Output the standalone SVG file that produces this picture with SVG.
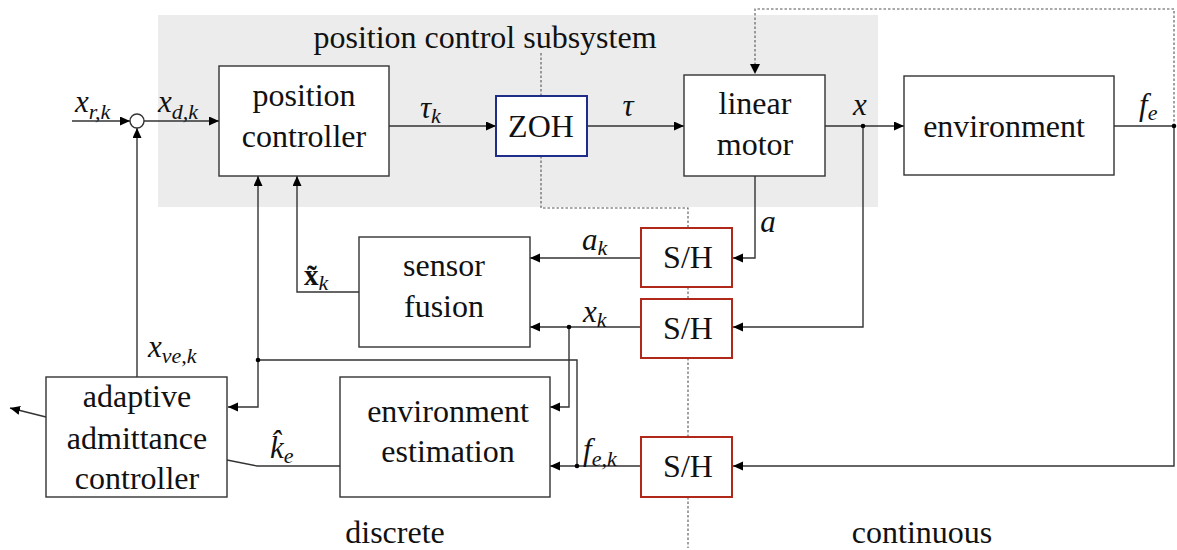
<svg xmlns="http://www.w3.org/2000/svg" width="1177" height="550" viewBox="0 0 1177 550">
  <defs>
    <marker id="arr" markerUnits="userSpaceOnUse" markerWidth="12" markerHeight="10" refX="10" refY="4.5" orient="auto">
      <path d="M0,0 L10,4.5 L0,9 z" fill="#000"/>
    </marker>
    <style>
      text { fill: #111; font-family: "Liberation Serif", "Times New Roman", serif; }
      .lbl { font-size: 32px; text-anchor: middle; }
      .m { font-style: italic; font-size: 31px; }
      .s { font-style: italic; font-size: 22px; }
      .box { fill: #fff; stroke: #333; stroke-width: 1.4; }
      .zoh { fill: #fff; stroke: #1f2d8a; stroke-width: 2; }
      .sh { fill: #fff; stroke: #b0281a; stroke-width: 2; }
      .w { fill: none; stroke: #333; stroke-width: 1.4; }
      .wa { fill: none; stroke: #333; stroke-width: 1.4; marker-end: url(#arr); }
      .dot { fill: none; stroke: #555; stroke-width: 1.1; stroke-dasharray: 2.5 2; }
      .jn { fill: #000; }
    </style>
  </defs>

  <!-- shaded subsystem region -->
  <rect x="158" y="15" width="720" height="192" fill="#ececec"/>
  <text class="lbl" x="485" y="48">position control subsystem</text>

  <!-- sampling boundary (dotted) -->
  <g id="boundary">
    <path class="dot" d="M541,53 V96"/>
    <path class="dot" d="M541,156 V208 H688 V227"/>
    <path class="dot" d="M688,287 V299"/>
    <path class="dot" d="M688,358 V437"/>
    <path class="dot" d="M688,497 V548"/>
  </g>

  <!-- connectors -->
  <g id="connectors">
    <path class="wa" d="M72,121 H130"/>
    <path class="wa" d="M144,121 H219"/>
    <path class="wa" d="M389,126 H496"/>
    <path class="wa" d="M587,126 H684"/>
    <path class="wa" d="M825,126 H904"/>
    <path class="w" d="M1114,126 H1174"/>
    <path class="dot" d="M1174,126 V9 H755 V64"/>
    <path d="M750,64 L755,74 L760,64 z" fill="#000"/>
    <path class="wa" d="M1174,126 V466 H733"/>
    <path class="wa" d="M755,176 V258 H733"/>
    <path class="wa" d="M863,126 V327 H733"/>
    <path class="wa" d="M641,258 H530"/>
    <path class="wa" d="M641,327 H530"/>
    <path class="wa" d="M359,292 H297 V176"/>
    <path class="wa" d="M569,327 V407 H550"/>
    <path class="wa" d="M641,466 H550"/>
    <path class="w" d="M577,466 V360 H258"/>
    <path class="wa" d="M258,360 V176"/>
    <path class="wa" d="M258,360 V407 H228"/>
    <path class="wa" d="M137,377 V128"/>
    <path class="w" d="M340,466 H257 L227,460"/>
    <path class="wa" d="M46,417 L10,408"/>
    <circle class="jn" cx="863" cy="126" r="2.3"/>
    <circle class="jn" cx="1174" cy="126" r="2.3"/>
    <circle class="jn" cx="569" cy="327" r="2.3"/>
    <circle class="jn" cx="577" cy="466" r="2.3"/>
    <circle class="jn" cx="258" cy="360" r="2.3"/>
  </g>

  <!-- signal labels -->
  <g id="labels">
    <text x="75" y="112"><tspan class="m">x</tspan><tspan class="s" dy="7">r,k</tspan></text>
    <text x="158" y="112"><tspan class="m">x</tspan><tspan class="s" dy="7">d,k</tspan></text>
    <text x="420" y="118"><tspan class="m">τ</tspan><tspan class="s" dy="5">k</tspan></text>
    <text x="628" y="116" class="m" text-anchor="middle">τ</text>
    <text x="860" y="115" class="m" text-anchor="middle">x</text>
    <text x="1139" y="115"><tspan class="m">f</tspan><tspan class="s" dy="5">e</tspan></text>
    <text x="768" y="232" class="m" text-anchor="middle">a</text>
    <text x="582" y="250"><tspan class="m">a</tspan><tspan class="s" dy="5">k</tspan></text>
    <text x="583" y="322"><tspan class="m">x</tspan><tspan class="s" dy="5">k</tspan></text>
    <text x="304" y="285"><tspan font-weight="bold" font-size="29px">x̃</tspan><tspan class="s" dy="5">k</tspan></text>
    <text x="148" y="357"><tspan class="m">x</tspan><tspan class="s" dy="6">ve,k</tspan></text>
    <text x="270" y="458"><tspan class="m">k̂</tspan><tspan class="s" dy="5">e</tspan></text>
    <text x="583" y="460"><tspan class="m">f</tspan><tspan class="s" dy="6">e,k</tspan></text>
  </g>

  <!-- summing junction -->
  <g id="sum">
    <circle cx="137" cy="121" r="7" fill="#fff" stroke="#333" stroke-width="1.4"/>
  </g>

  <g id="position-controller">
    <rect class="box" x="219" y="66" width="170" height="110"/>
    <text class="lbl" x="304" y="106">position</text>
    <text class="lbl" x="304" y="147">controller</text>
  </g>

  <g id="zoh">
    <rect class="zoh" x="496" y="96" width="91" height="60"/>
    <text class="lbl" x="541" y="137">ZOH</text>
  </g>

  <g id="linear-motor">
    <rect class="box" x="684" y="75" width="141" height="101"/>
    <text class="lbl" x="755" y="114">linear</text>
    <text class="lbl" x="755" y="155">motor</text>
  </g>

  <g id="environment">
    <rect class="box" x="904" y="76" width="210" height="99"/>
    <text class="lbl" x="1004" y="137">environment</text>
  </g>

  <g id="sh-a">
    <rect class="sh" x="641" y="228" width="91" height="59"/>
    <text class="lbl" x="688" y="268">S/H</text>
  </g>

  <g id="sh-x">
    <rect class="sh" x="641" y="299" width="91" height="59"/>
    <text class="lbl" x="688" y="339">S/H</text>
  </g>

  <g id="sh-f">
    <rect class="sh" x="641" y="437" width="91" height="60"/>
    <text class="lbl" x="688" y="477">S/H</text>
  </g>

  <g id="sensor-fusion">
    <rect class="box" x="359" y="237" width="171" height="110"/>
    <text class="lbl" x="444" y="276">sensor</text>
    <text class="lbl" x="444" y="317">fusion</text>
  </g>

  <g id="environment-estimation">
    <rect class="box" x="340" y="377" width="210" height="120"/>
    <text class="lbl" x="448" y="422">environment</text>
    <text class="lbl" x="448" y="462">estimation</text>
  </g>

  <g id="adaptive-admittance-controller">
    <rect class="box" x="46" y="377" width="181" height="120"/>
    <text class="lbl" x="137" y="407">adaptive</text>
    <text class="lbl" x="137" y="449">admittance</text>
    <text class="lbl" x="137" y="489">controller</text>
  </g>

  <text class="lbl" x="395" y="543">discrete</text>
  <text class="lbl" x="922" y="543">continuous</text>
</svg>
